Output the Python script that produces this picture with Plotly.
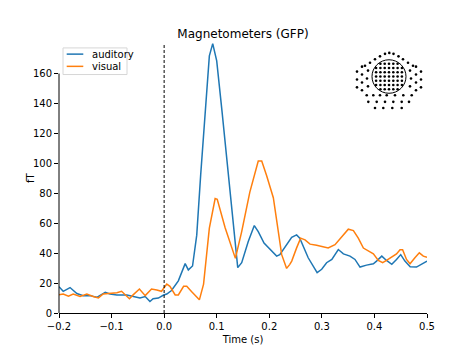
import plotly.graph_objects as go

# ---- data ----
auditory_t = [-0.2, -0.192, -0.179, -0.166, -0.154, -0.141, -0.128, -0.112, -0.103, -0.09,
              -0.071, -0.059, -0.046, -0.036, -0.027, -0.021, -0.011, -0.001, 0.005, 0.014,
              0.027, 0.04, 0.046, 0.054, 0.062, 0.0696, 0.078, 0.086, 0.0924, 0.1,
              0.11, 0.122, 0.131, 0.14, 0.1475, 0.16, 0.1715, 0.179, 0.19, 0.201,
              0.214, 0.22, 0.23, 0.2426, 0.252, 0.258, 0.274, 0.291, 0.2997, 0.309,
              0.319, 0.3313, 0.341, 0.3535, 0.363, 0.3726, 0.385, 0.398, 0.404, 0.414,
              0.423, 0.433, 0.442, 0.45, 0.458, 0.468, 0.48, 0.49, 0.5]
auditory_v = [17.6, 14.5, 17, 13, 11.6, 11.6, 10.5, 13.8, 12.7, 12,
              12, 11, 10, 11, 7.7, 9.5, 10, 12, 12.7, 15,
              21.5, 33, 28.8, 31.4, 52, 92.8, 135, 171.8, 180, 168.5,
              135, 92.8, 61, 30.3, 33.6, 47.8, 58.4, 54.4, 46.7, 43,
              38, 39, 43.9, 50.5, 52.2, 50, 36.9, 27, 29.2, 33.6,
              35.8, 42.4, 39.5, 38, 35.8, 30.7, 32, 32.9, 34.7, 38,
              35.1, 32.5, 35.8, 39, 34.7, 30.9, 30.7, 32.5, 34.7]

visual_t = [-0.2, -0.192, -0.182, -0.173, -0.16, -0.147, -0.135, -0.125, -0.116, -0.103,
            -0.09, -0.081, -0.066, -0.059, -0.047, -0.036, -0.024, -0.014, -0.005, 0.005,
            0.011, 0.021, 0.027, 0.037, 0.043, 0.052, 0.067, 0.075, 0.086, 0.097,
            0.101, 0.116, 0.1317, 0.1355, 0.1475, 0.163, 0.179, 0.1856, 0.195, 0.2077,
            0.2236, 0.233, 0.239, 0.2427, 0.252, 0.2596, 0.268, 0.2775, 0.29, 0.303,
            0.312, 0.325, 0.3377, 0.3503, 0.36, 0.3693, 0.379, 0.3884, 0.398, 0.4074,
            0.4156, 0.423, 0.436, 0.442, 0.4487, 0.4536, 0.461, 0.4677, 0.477, 0.4854,
            0.493, 0.5]
visual_v = [12.1, 12.7, 11.2, 12.7, 11, 12.7, 11, 10.1, 12.7, 13.2,
            13.6, 14.5, 9.5, 12.1, 16, 11.6, 16, 15.4, 14.5, 19.3,
            17.8, 12.1, 12.1, 17.8, 17.8, 14.3, 8.8, 19.3, 56.7, 76.5,
            76, 57, 39.6, 36.5, 54.4, 80.8, 101.6, 101.6, 91.7, 77,
            39, 29.8, 32.5, 34.7, 43.5, 50, 48.9, 46, 45.2, 43.9,
            43.4, 45.6, 51.2, 56, 55.1, 50, 43.4, 41.3, 39.5, 35.1,
            33.6, 35.1, 38, 39.5, 42.3, 42.3, 35.8, 32.9, 36.9, 40.2,
            38, 37.3]

series_names = ["auditory", "visual"]
series_colors = ["#1f77b4", "#ff7f0e"]

x_tickvals = [-0.2, -0.1, 0.0, 0.1, 0.2, 0.3, 0.4, 0.5]
x_ticktext = ["\u22120.2", "\u22120.1", "0.0", "0.1", "0.2", "0.3", "0.4", "0.5"]
y_tickvals = [0, 20, 40, 60, 80, 100, 120, 140, 160]

# sensor layout (inset, in inset units)
sensor_x = [380.4, 384.7, 389, 393.3, 397.6,
            376.1, 380.4, 384.7, 389, 393.3, 397.6, 401.9,
            376.1, 380.4, 384.7, 389, 393.3, 397.6, 401.9,
            376.1, 380.4, 384.7, 389, 393.3, 397.6, 401.9,
            376.1, 380.4, 384.7, 389, 393.3, 397.6, 401.9,
            376.1, 380.4, 384.7, 389, 393.3, 397.6, 401.9,
            380.4, 384.7, 389, 393.3, 397.6,
            385, 389.3, 393.5, 380, 398.5, 375, 403, 370, 408, 365, 413,
            368, 367, 368, 362, 362, 362, 362, 357, 357, 357,
            410, 411, 410, 416, 416, 416, 416, 421, 421, 421,
            366.7, 373.3, 380, 386.7, 395, 403.3, 411.7,
            368.3, 376.7, 385, 393.3, 401.7, 409,
            375, 383.3, 392.3, 401.7]
sensor_y = [63.1, 63.1, 63.1, 63.1, 63.1,
            67.4, 67.4, 67.4, 67.4, 67.4, 67.4, 67.4,
            71.7, 71.7, 71.7, 71.7, 71.7, 71.7, 71.7,
            76, 76, 76, 76, 76, 76, 76,
            80.3, 80.3, 80.3, 80.3, 80.3, 80.3, 80.3,
            84.6, 84.6, 84.6, 84.6, 84.6, 84.6, 84.6,
            88.9, 88.9, 88.9, 88.9, 88.9,
            53, 52, 53, 55.5, 55.5, 58.5, 58.5, 62, 62, 65, 65,
            70, 78, 86, 66, 74, 82, 90, 71, 79, 87,
            70, 78, 86, 66, 74, 82, 90, 71, 79, 87,
            95, 95, 95, 95, 95, 95, 95,
            101.7, 101.7, 101.7, 101.7, 101.7, 101.7,
            108, 108, 108, 108]

FONT = "DejaVu Sans, Liberation Sans, sans-serif"

# page body has a small margin; compensate so the plot area lands at the right pixels
OFFX, OFFY = 8, 7
W, H = 474 - 8, 355 - 8

fig = go.Figure()
for name, t, v, c in [(series_names[0], auditory_t, auditory_v, series_colors[0]),
                      (series_names[1], visual_t, visual_v, series_colors[1])]:
    fig.add_trace(go.Scatter(x=t, y=v, mode="lines", name=name, showlegend=False,
                             line=dict(color=c, width=1.5)))
fig.add_trace(go.Scatter(x=sensor_x, y=sensor_y, mode="markers", showlegend=False,
                         marker=dict(color="black", size=2.6), xaxis="x2", yaxis="y2",
                         hoverinfo="skip"))

fig.update_layout(
    width=W, height=H,
    margin=dict(l=59 - OFFX, r=47, t=42 - OFFY, b=H - (42 - OFFY) - 274),
    paper_bgcolor="white", plot_bgcolor="white",
    font=dict(family=FONT, size=10, color="black"),
    title=dict(text="Magnetometers (GFP)", x=0.5, xref="paper", xanchor="center",
               y=1 - (33 - OFFY) / H, yref="container", yanchor="middle",
               font=dict(size=12, family=FONT, color="black")),
    xaxis=dict(range=[-0.2, 0.5], tickvals=x_tickvals, ticktext=x_ticktext,
               showgrid=False, zeroline=False, showline=True, linecolor="black", linewidth=1,
               ticks="outside", ticklen=4, tickwidth=1, tickcolor="black",
               title=dict(text="Time (s)", standoff=4, font=dict(size=10))),
    yaxis=dict(range=[0, 180.4], tickvals=y_tickvals,
               showgrid=False, zeroline=False, showline=False,
               ticks="outside", ticklen=4, tickwidth=1, tickcolor="black"),
    xaxis2=dict(domain=[0.7962, 0.9973], range=[352, 426], visible=False, anchor="y2"),
    yaxis2=dict(domain=[0.7445, 0.978], range=[112, 48], visible=False, anchor="x2"),
    showlegend=False,
)

# y-axis label
fig.add_annotation(xref="paper", yref="paper", x=-0.0788, y=0.5, text="fT",
                   textangle=-90, showarrow=False, xanchor="center", yanchor="middle",
                   font=dict(size=10, family=FONT, color="black"))

# truncated left spine (0 to 160)
fig.add_shape(type="line", xref="paper", yref="y", x0=0, x1=0, y0=0, y1=160,
              line=dict(color="black", width=1))
# vertical dashed line at t=0
fig.add_shape(type="line", xref="x", yref="paper", x0=0, x1=0, y0=0, y1=1,
              line=dict(color="black", width=1, dash="3px,2px"))
# head circle
fig.add_shape(type="circle", xref="x2", yref="y2", x0=372, x1=406, y0=59, y1=93,
              line=dict(color="black", width=1))

# manual legend
fig.add_shape(type="rect", xref="paper", yref="paper", x0=0.0109, x1=0.1848,
              y0=0.8832, y1=0.9818, line=dict(color="#d6d6d6", width=1),
              fillcolor="rgba(255,255,255,0.8)")
for i, (name, c) in enumerate(zip(series_names, series_colors)):
    yy = [0.9588, 0.9135][i]
    fig.add_shape(type="line", xref="paper", yref="paper", x0=0.0209, x1=0.066,
                  y0=yy, y1=yy, line=dict(color=c, width=1.5))
    fig.add_annotation(xref="paper", yref="paper", x=0.0842, y=yy, text=name,
                       showarrow=False, xanchor="left", yanchor="middle",
                       font=dict(size=10, family=FONT, color="black"))

fig.write_html("out.html")
